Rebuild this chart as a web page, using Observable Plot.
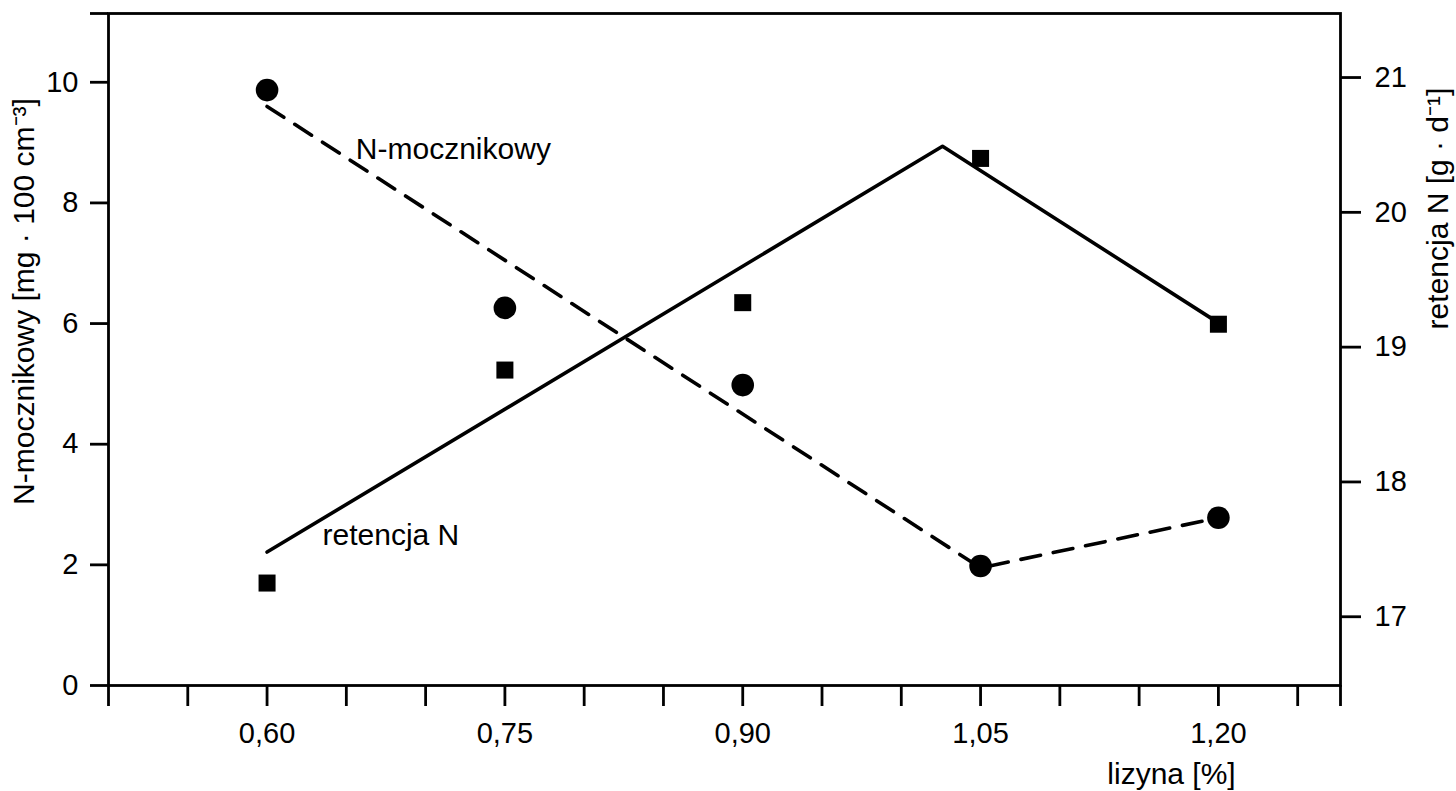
<!DOCTYPE html>
<html>
<head>
<meta charset="utf-8">
<script src="https://cdn.jsdelivr.net/npm/d3@7"></script>
<script src="https://cdn.jsdelivr.net/npm/@observablehq/plot@0.6"></script>
<style>
  html, body { margin: 0; padding: 0; background: white; }
  #chart svg { display: block; }
</style>
</head>
<body>
<div id="chart"></div>
<script>
// lysine level [%]
const lizyna = [0.60, 0.75, 0.90, 1.05, 1.20];
// urea N [mg · 100 cm^-3] (circles, left axis)
const nMocznikowy = [9.87, 6.26, 4.98, 1.98, 2.78];
// N retention [g · d^-1] (squares, right axis)
const retencjaN = [17.25, 18.83, 19.33, 20.40, 19.17];

// broken-line (two-phase) fits
const fitMocznikX = [0.60, 1.05, 1.20];
const fitMocznikY = [9.60, 1.95, 2.78];
const fitRetencjaX = [0.60, 1.026, 1.20];
const fitRetencjaY = [17.48, 20.49, 19.18];

// axis domains and ticks
const xDomain = [0.5, 1.277];
const leftDomain = [0, 11.14];
const rightDomain = [16.49, 21.475];
const xTicks = d3.range(50, 130, 5).map(d => d / 100);
const xLabelTicks = [60, 75, 90, 105, 120];
const leftTicks = [0, 2, 4, 6, 8, 10];
const rightTicks = [17, 18, 19, 20, 21];

// in-plot series labels
const seriesLabels = [
  {text: "N-mocznikowy", x: 0.656, y: 8.72},
  {text: "retencja N", x: 0.635, y: 2.33}
];

const toLeft = d3.scaleLinear().domain(rightDomain).range(leftDomain);

const circles = lizyna.map((x, i) => ({x, y: nMocznikowy[i]}));
const squares = lizyna.map((x, i) => ({x, y: toLeft(retencjaN[i])}));
const fitMocznik = fitMocznikX.map((x, i) => ({x, y: fitMocznikY[i]}));
const fitRetencja = fitRetencjaX.map((x, i) => ({x, y: toLeft(fitRetencjaY[i])}));

const fmtX = d => xLabelTicks.includes(Math.round(d * 100)) ? d3.format(".2f")(d).replace(".", ",") : "";
const fmtLeft = d => leftTicks.includes(d) ? String(d) : "";

const chart = Plot.plot({
  width: 1456,
  height: 791,
  marginLeft: 108,
  marginRight: 116,
  marginTop: 13,
  marginBottom: 106,
  x: {domain: xDomain},
  y: {domain: leftDomain},
  style: {fontFamily: "'Liberation Sans', Arial, sans-serif", fontSize: "29px", color: "black", background: "white"},
  marks: [
    Plot.frame({stroke: "black", strokeWidth: 2.8}),
    Plot.axisX([...xTicks, xDomain[1]], {tickSize: 21, tickPadding: 16, tickFormat: fmtX, strokeWidth: 2.8, label: null, fontSize: 29}),
    Plot.axisY([...leftTicks, leftDomain[1]], {anchor: "left", tickSize: 18, tickPadding: 12, tickFormat: fmtLeft, strokeWidth: 2.8, label: null, fontSize: 29}),
    Plot.axisY(rightTicks.map(toLeft), {anchor: "right", tickSize: 20, tickPadding: 14, strokeWidth: 2.8, label: null, fontSize: 29,
      tickFormat: d => String(Math.round(toLeft.invert(d)))}),
    Plot.line(fitMocznik, {x: "x", y: "y", stroke: "black", strokeWidth: 3.6, strokeDasharray: "20,13"}),
    Plot.line(fitRetencja, {x: "x", y: "y", stroke: "black", strokeWidth: 3.6}),
    Plot.dot(circles, {x: "x", y: "y", r: 11.3, fill: "black", symbol: "circle"}),
    Plot.dot(squares, {x: "x", y: "y", r: 9.6, fill: "black", symbol: "square"}),
    Plot.text(seriesLabels, {x: "x", y: "y", text: "text", textAnchor: "start", lineAnchor: "bottom", fontSize: 30}),
    Plot.text(["N-mocznikowy [mg · 100 cm⁻³]"], {frameAnchor: "left", rotate: -90, dx: -84, dy: -48, textAnchor: "middle", lineAnchor: "middle", fontSize: 30, text: d => d}),
    Plot.text(["retencja N [g · d⁻¹]"], {frameAnchor: "right", rotate: -90, dx: 98, dy: -141, textAnchor: "middle", lineAnchor: "middle", fontSize: 30, text: d => d}),
    Plot.text(["lizyna [%]"], {frameAnchor: "bottom-right", dx: -169, dy: 98, textAnchor: "middle", lineAnchor: "bottom", fontSize: 30, text: d => d})
  ]
});
document.getElementById("chart").appendChild(chart);
</script>
</body>
</html>
